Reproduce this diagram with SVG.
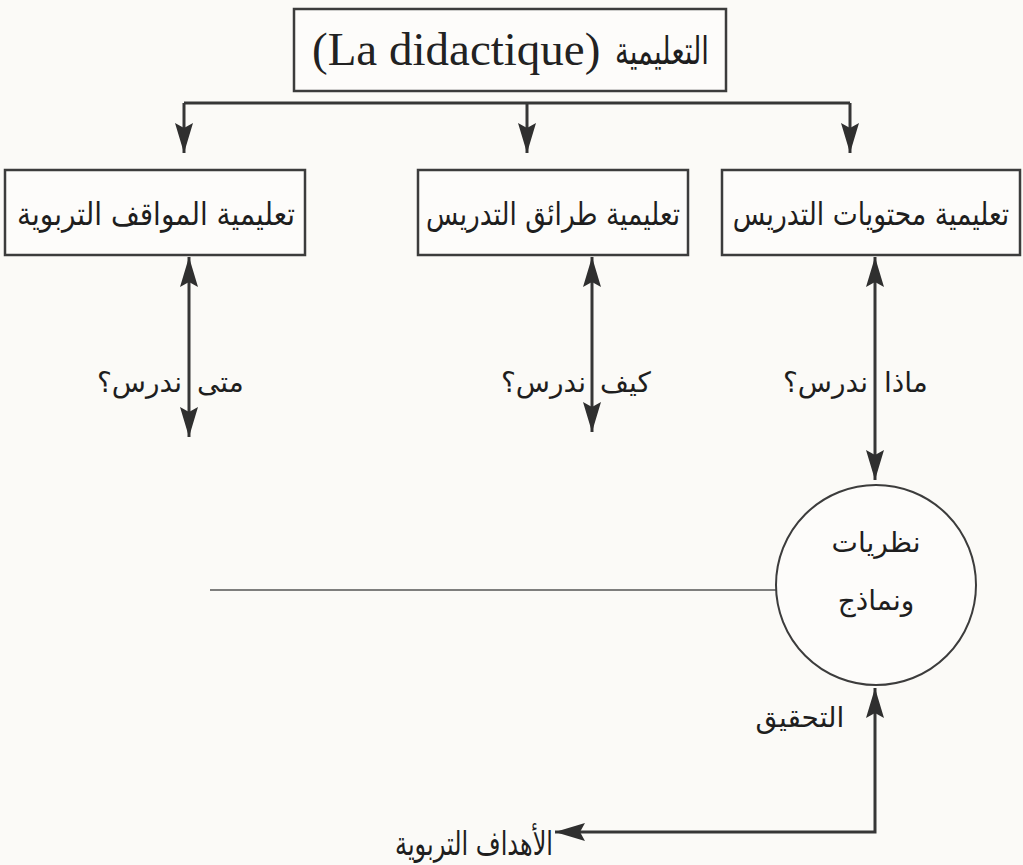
<svg xmlns="http://www.w3.org/2000/svg" width="1023" height="865" viewBox="0 0 1023 865">
<style>
.box{fill:#fdfcfa;stroke:#3c3c3c;stroke-width:2.5}
.ln{fill:none;stroke:#363636;stroke-width:3}
.thin{fill:none;stroke:#555;stroke-width:1.6}
.ar{font-family:"DejaVu Sans",sans-serif;fill:#1e1e1e}
.mid{text-anchor:middle}
.st{text-anchor:start}
.en{text-anchor:end}
.lbl{font-size:28px}
.bx{font-size:32px}
.ttl{font-family:"Liberation Serif",serif;font-size:47px;fill:#222}
</style>
<defs>
<marker id="ah" viewBox="0 0 30 18" refX="30" refY="9" markerWidth="30" markerHeight="18" markerUnits="userSpaceOnUse" orient="auto-start-reverse">
<path d="M0,0 L30,9 L0,18 L5,9 Z" fill="#2f2f2f"/>
</marker>
</defs>
<rect width="1023" height="865" fill="#fbfaf7"/>
<g id="connectors">
<path class="ln" d="M184,103 H850"/>
<path class="ln" d="M184,103 V153" marker-end="url(#ah)"/>
<path class="ln" d="M527,103 V153" marker-end="url(#ah)"/>
<path class="ln" d="M850,103 V153" marker-end="url(#ah)"/>
<path class="ln" d="M189,257 V437" marker-start="url(#ah)" marker-end="url(#ah)"/>
<path class="ln" d="M592,257 V432" marker-start="url(#ah)" marker-end="url(#ah)"/>
<path class="ln" d="M875,257 V480" marker-start="url(#ah)" marker-end="url(#ah)"/>
<path class="thin" d="M210,590 H778"/>
<path class="ln" d="M875,688 V832 H555" marker-start="url(#ah)" marker-end="url(#ah)"/>
</g>
<g id="title">
<rect class="box" x="294" y="9" width="432" height="82"/>
<text class="ttl" x="312" y="65">(La didactique)</text>
<text class="ar en" style="font-size:38px" x="709" y="64" textLength="94" lengthAdjust="spacingAndGlyphs">التعليمية</text>
</g>
<g id="situations">
<rect class="box" x="5" y="170" width="300" height="85"/>
<text class="ar bx mid" x="156" y="225" textLength="278" lengthAdjust="spacingAndGlyphs">تعليمية المواقف التربوية</text>
</g>
<g id="methods">
<rect class="box" x="418" y="170" width="270" height="85"/>
<text class="ar bx mid" x="553" y="225" textLength="254" lengthAdjust="spacingAndGlyphs">تعليمية طرائق التدريس</text>
</g>
<g id="contents">
<rect class="box" x="722" y="170" width="298" height="85"/>
<text class="ar bx mid" x="0" y="0" transform="translate(871,225) scale(0.83,1)">تعليمية محتويات التدريس</text>
</g>
<g id="labels">
<text class="ar lbl st" x="197" y="392">متى</text>
<text class="ar lbl en" x="182" y="392">ندرس؟</text>
<text class="ar lbl st" x="600" y="392">كيف</text>
<text class="ar lbl en" x="586" y="392">ندرس؟</text>
<text class="ar lbl st" x="884" y="392">ماذا</text>
<text class="ar lbl en" x="868" y="392">ندرس؟</text>
<text class="ar lbl mid" x="800" y="727">التحقيق</text>
</g>
<g id="theories">
<circle cx="876" cy="585" r="100" fill="#fdfcfa" stroke="#3c3c3c" stroke-width="2"/>
<text class="ar lbl mid" x="876" y="552">نظريات</text>
<text class="ar lbl mid" x="876" y="610">ونماذج</text>
</g>
<g id="goals">
<text class="ar en" style="font-size:33px" x="553" y="855" textLength="158" lengthAdjust="spacingAndGlyphs">الأهداف التربوية</text>
</g>
</svg>
